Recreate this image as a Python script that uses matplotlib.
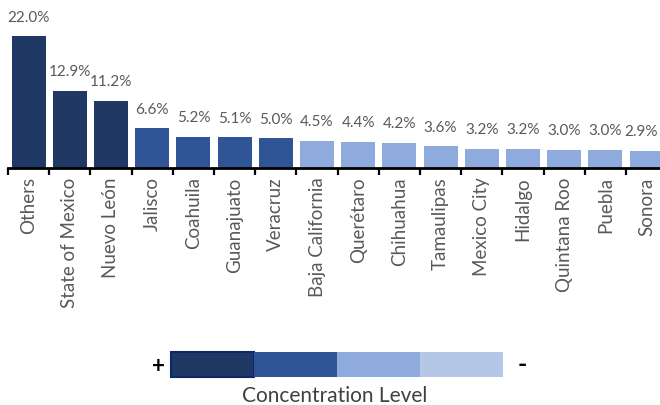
import matplotlib.pyplot as plt
import numpy as np

plt.rcParams['font.family'] = ['Lato', 'DejaVu Sans']

states = ['Others', 'State of Mexico', 'Nuevo León', 'Jalisco', 'Coahuila',
          'Guanajuato', 'Veracruz', 'Baja California', 'Querétaro', 'Chihuahua',
          'Tamaulipas', 'Mexico City', 'Hidalgo', 'Quintana Roo', 'Puebla', 'Sonora']
shares = [22.0, 12.9, 11.2, 6.6, 5.2, 5.1, 5.0, 4.5, 4.4, 4.2, 3.6, 3.2, 3.2, 3.0, 3.0, 2.9]
levels = [0, 0, 0, 1, 1, 1, 1, 2, 2, 2, 2, 2, 2, 2, 2, 2]

level_colors = ['#203864', '#2F5597', '#8FAADC', '#B4C7E7']
label_grey = '#595959'

W, H = 660, 406
fig = plt.figure(figsize=(W / 100, H / 100), dpi=100)

# axes: baseline at y=169px, 41.2 px per category starting at x=8
n = len(states)
ax = fig.add_axes([8 / W, (H - 169) / H, n * 41.2 / W, 150 / H])
x = np.arange(n)
ax.bar(x, shares, width=0.83, color=[level_colors[l] for l in levels])
for xi, v in zip(x, shares):
    # the last label is nudged left so it stays inside the picture
    dx = -4 if xi == n - 1 else 0
    ax.annotate(f'{v:.1f}%', (xi, v), xytext=(dx, 9), textcoords='offset points',
                ha='center', va='bottom', fontsize=11, color=label_grey)

ax.set_xlim(-0.5, n - 0.5)
ax.set_ylim(0, 25)
ax.set_yticks([])
for s in ['top', 'right', 'left']:
    ax.spines[s].set_visible(False)
ax.spines['bottom'].set_linewidth(2)
ax.spines['bottom'].set_color('black')

ax.set_xticks(x)
ax.set_xticklabels(states, rotation=90, fontsize=13.5, color=label_grey)
ax.tick_params(axis='x', which='major', length=0, pad=6)
ax.set_xticks(np.arange(n + 1) - 0.5, minor=True)
ax.tick_params(axis='x', which='minor', length=5, width=1.6, color='black')

# concentration legend
lax = fig.add_axes([0, 0, 1, 1])
lax.set_xlim(0, W)
lax.set_ylim(H, 0)
lax.axis('off')
box_w = 83
for i, c in enumerate(level_colors):
    edge = '#0B2A6B' if i == 0 else c
    lax.add_patch(plt.Rectangle((171 + i * box_w, 353), box_w, 25,
                                facecolor=c, edgecolor=edge, linewidth=1.5 if i == 0 else 0))
lax.text(158, 367, '+', ha='center', va='center', fontsize=16, fontweight='bold', color='black')
lax.text(522, 365, '-', ha='center', va='center', fontsize=18, fontweight='bold', color='black')
lax.text(335, 396, 'Concentration Level', ha='center', va='center',
         fontsize=15, color='#404040')

fig.savefig('out.png', dpi=100)
